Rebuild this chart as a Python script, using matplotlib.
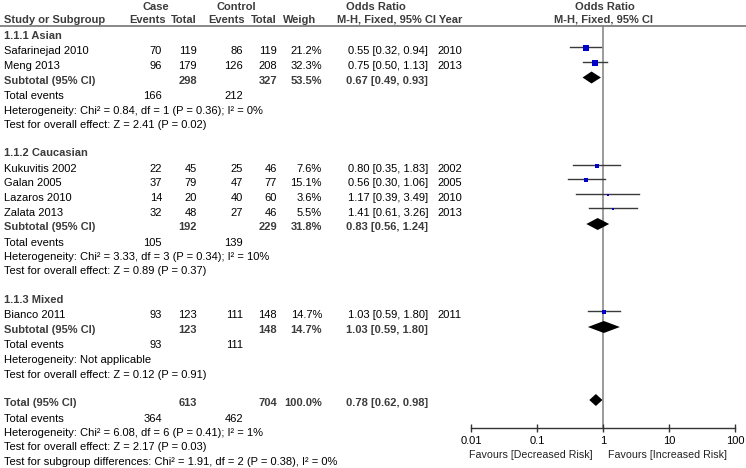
import matplotlib
matplotlib.use('Agg')
import matplotlib.pyplot as plt
import numpy as np

plt.rcParams['font.family'] = ['Liberation Sans', 'DejaVu Sans']
plt.rcParams['font.size'] = 8.0

# study level data
studies = ['Safarinejad 2010', 'Meng 2013', 'Kukuvitis 2002', 'Galan 2005',
           'Lazaros 2010', 'Zalata 2013', 'Bianco 2011']
study_group = [0, 0, 1, 1, 1, 1, 2]
case_events = [70, 96, 22, 37, 14, 32, 93]
case_total = [119, 179, 45, 79, 20, 48, 123]
ctrl_events = [86, 126, 25, 47, 40, 27, 111]
ctrl_total = [119, 208, 46, 77, 60, 46, 148]
weights = [21.2, 32.3, 7.6, 15.1, 3.6, 5.5, 14.7]
or_est = [0.55, 0.75, 0.80, 0.56, 1.17, 1.41, 1.03]
or_lo = [0.32, 0.50, 0.35, 0.30, 0.39, 0.61, 0.59]
or_hi = [0.94, 1.13, 1.83, 1.06, 3.49, 3.26, 1.80]
years = [2010, 2013, 2002, 2005, 2010, 2013, 2011]

# subgroup data
groups = ['1.1.1 Asian', '1.1.2 Caucasian', '1.1.3 Mixed']
sub_case_total = [298, 192, 123]
sub_ctrl_total = [327, 229, 148]
sub_case_events = [166, 105, 93]
sub_ctrl_events = [212, 139, 111]
sub_weight = [53.5, 31.8, 14.7]
sub_or = [0.67, 0.83, 1.03]
sub_lo = [0.49, 0.56, 0.59]
sub_hi = [0.93, 1.24, 1.80]
sub_het = ['Chi\u00b2 = 0.84, df = 1 (P = 0.36); I\u00b2 = 0%',
           'Chi\u00b2 = 3.33, df = 3 (P = 0.34); I\u00b2 = 10%',
           'Not applicable']
sub_z = ['Z = 2.41 (P = 0.02)', 'Z = 0.89 (P = 0.37)', 'Z = 0.12 (P = 0.91)']

# overall
tot_case_total, tot_ctrl_total = 613, 704
tot_case_events, tot_ctrl_events = 364, 462
tot_weight = 100.0
tot_or, tot_lo, tot_hi = 0.78, 0.62, 0.98
tot_het = 'Chi\u00b2 = 6.08, df = 6 (P = 0.41); I\u00b2 = 1%'
tot_z = 'Z = 2.17 (P = 0.03)'
sub_diff = 'Chi\u00b2 = 1.91, df = 2 (P = 0.38), I\u00b2 = 0%'

ticks = [0.01, 0.1, 1, 10, 100]
tick_labels = ['0.01', '0.1', '1', '10', '100']

W, H = 746, 468
fig = plt.figure(figsize=(W/100, H/100), dpi=100)
ax = fig.add_axes([0, 0, 1, 1])
ax.set_xlim(0, W)
ax.set_ylim(H, 0)
ax.axis('off')

pax = fig.add_axes([471/W, 0, 264/W, 1])
pax.set_xscale('log')
pax.set_xlim(0.01, 100)
pax.set_ylim(H, 0)
pax.patch.set_alpha(0)
for s in ['top', 'left', 'right']:
    pax.spines[s].set_visible(False)
pax.spines['bottom'].set_position(('data', 428))
pax.spines['bottom'].set_color('#333333')
pax.spines['bottom'].set_linewidth(1)
pax.set_yticks([])
pax.set_xticks(ticks)
pax.set_xticklabels(tick_labels)
pax.minorticks_off()
pax.tick_params(axis='x', direction='inout', length=6, width=1, color='#333333', pad=3, labelsize=8.0)

BOLDC = '#3c3c3c'
LX = 4
CE_R, CT_R, KE_R, KT_R, W_R, OR_R, YR_L = 162, 197, 243, 277, 322, 428, 437

def txt(x, y, s, ha='left', bold=False):
    ax.text(x, y + 4.0, s, ha=ha, va='baseline',
            fontweight='bold' if bold else 'normal',
            color=BOLDC if bold else 'black')

def ci(e, l, h):
    return '%.2f [%.2f, %.2f]' % (e, l, h)

def diamond(y, e, l, h):
    pax.fill([l, e, h, e], [y, y - 6, y, y + 6], color='black', lw=0)

# header
txt(156, 6, 'Case', ha='center', bold=True)
txt(236, 6, 'Control', ha='center', bold=True)
txt(376, 6, 'Odds Ratio', ha='center', bold=True)
txt(605, 6, 'Odds Ratio', ha='center', bold=True)
txt(LX, 19, 'Study or Subgroup', bold=True)
txt(166, 19, 'Events', ha='right', bold=True)
txt(197, 19, 'Total', ha='right', bold=True)
txt(245, 19, 'Events', ha='right', bold=True)
txt(277, 19, 'Total', ha='right', bold=True)
txt(283, 19, 'Weigh', bold=True)
txt(337, 19, 'M-H, Fixed, 95% CI Year', bold=True)
txt(604, 19, 'M-H, Fixed, 95% CI', ha='center', bold=True)
ax.plot([0, W], [25.5, 25.5], color='#7f7f7f', lw=1.3)

# null line
pax.plot([1, 1], [25.5, 428], color='#808080', lw=1.1, zorder=1)

y = 35.0
for g in range(len(groups)):
    txt(LX, y, groups[g], bold=True)
    y += 15.5
    for i in range(len(studies)):
        if study_group[i] != g:
            continue
        txt(LX, y, studies[i])
        txt(CE_R, y, str(case_events[i]), ha='right')
        txt(CT_R, y, str(case_total[i]), ha='right')
        txt(KE_R, y, str(ctrl_events[i]), ha='right')
        txt(KT_R, y, str(ctrl_total[i]), ha='right')
        txt(W_R, y, '%.1f%%' % weights[i], ha='right')
        txt(OR_R, y, ci(or_est[i], or_lo[i], or_hi[i]), ha='right')
        txt(YR_L, y, str(years[i]))
        my = y - 3.5
        pax.plot([or_lo[i], or_hi[i]], [my, my], color='#3a3a3a', lw=1, zorder=2)
        pax.plot(or_est[i], my + 1, 's', color='#0000c8',
                 ms=1.1 * np.sqrt(weights[i]) * 0.72, mew=0, zorder=3)
        y += 14.5
    txt(LX, y, 'Subtotal (95% CI)', bold=True)
    txt(CT_R, y, str(sub_case_total[g]), ha='right', bold=True)
    txt(KT_R, y, str(sub_ctrl_total[g]), ha='right', bold=True)
    txt(W_R, y, '%.1f%%' % sub_weight[g], ha='right', bold=True)
    txt(OR_R, y, ci(sub_or[g], sub_lo[g], sub_hi[g]), ha='right', bold=True)
    diamond(y - 2, sub_or[g], sub_lo[g], sub_hi[g])
    y += 15.5
    txt(LX, y, 'Total events')
    txt(CE_R, y, str(sub_case_events[g]), ha='right')
    txt(KE_R, y, str(sub_ctrl_events[g]), ha='right')
    y += 14.5
    txt(LX, y, 'Heterogeneity: ' + sub_het[g])
    y += 14.5
    txt(LX, y, 'Test for overall effect: ' + sub_z[g])
    y += 28.5

txt(LX, y, 'Total (95% CI)', bold=True)
txt(CT_R, y, str(tot_case_total), ha='right', bold=True)
txt(KT_R, y, str(tot_ctrl_total), ha='right', bold=True)
txt(W_R, y, '%.1f%%' % tot_weight, ha='right', bold=True)
txt(OR_R, y, ci(tot_or, tot_lo, tot_hi), ha='right', bold=True)
diamond(y - 2, tot_or, tot_lo, tot_hi)
y += 15.5
txt(LX, y, 'Total events')
txt(CE_R, y, str(tot_case_events), ha='right')
txt(KE_R, y, str(tot_ctrl_events), ha='right')
y += 14.5
txt(LX, y, 'Heterogeneity: ' + tot_het)
y += 14.5
txt(LX, y, 'Test for overall effect: ' + tot_z)
y += 14.5
txt(LX, y, 'Test for subgroup differences: ' + sub_diff)

ax.text(593, 454 + 4.0, 'Favours [Decreased Risk]', ha='right', va='baseline', color='#222222', fontsize=7.7)
ax.text(608, 454 + 4.0, 'Favours [Increased Risk]', ha='left', va='baseline', color='#222222', fontsize=7.7)

fig.savefig('out.png', dpi=100)
